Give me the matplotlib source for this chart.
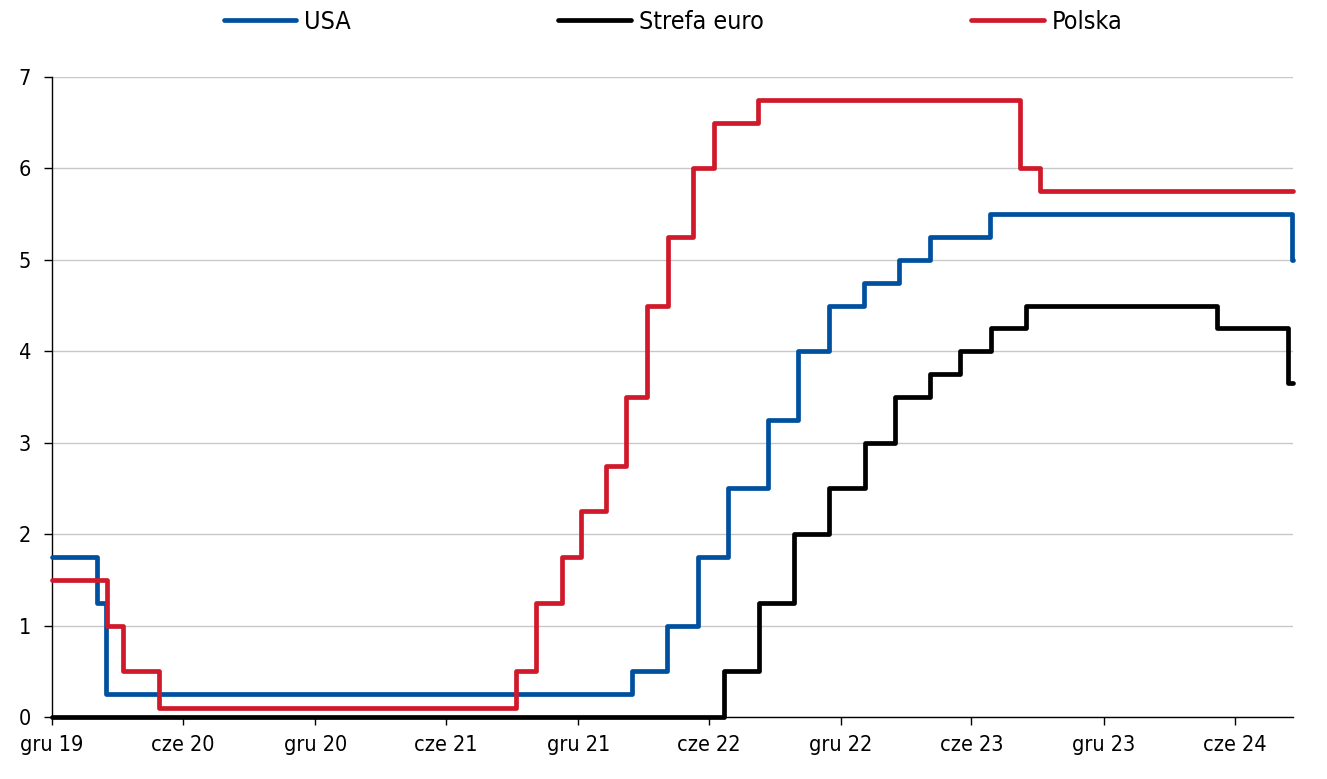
import numpy as np
import pandas as pd
import matplotlib.pyplot as plt

# stopy procentowe banków centralnych (daty zmian i poziomy)
usa_dates = ['2019-12-31', '2020-03-03', '2020-03-15', '2022-03-16', '2022-05-04',
             '2022-06-15', '2022-07-27', '2022-09-21', '2022-11-02', '2022-12-14',
             '2023-02-01', '2023-03-22', '2023-05-03', '2023-07-26', '2024-09-18']
usa_vals = [1.75, 1.25, 0.25, 0.5, 1.0, 1.75, 2.5, 3.25, 4.0, 4.5, 4.75, 5.0, 5.25, 5.5, 5.0]

ez_dates = ['2019-12-31', '2022-07-21', '2022-09-08', '2022-10-27', '2022-12-15',
            '2023-02-02', '2023-03-16', '2023-05-04', '2023-06-15', '2023-07-27',
            '2023-09-14', '2024-06-06', '2024-09-12']
ez_vals = [0.0, 0.5, 1.25, 2.0, 2.5, 3.0, 3.5, 3.75, 4.0, 4.25, 4.5, 4.25, 3.65]

pl_dates = ['2019-12-31', '2020-03-17', '2020-04-08', '2020-05-28', '2021-10-06',
            '2021-11-03', '2021-12-08', '2022-01-04', '2022-02-08', '2022-03-08',
            '2022-04-06', '2022-05-05', '2022-06-08', '2022-07-07', '2022-09-07',
            '2023-09-06', '2023-10-04']
pl_vals = [1.5, 1.0, 0.5, 0.1, 0.5, 1.25, 1.75, 2.25, 2.75, 3.5, 4.5, 5.25, 6.0,
           6.5, 6.75, 6.0, 5.75]

end_date = '2024-09-19'

tick_dates = ['2019-12-31', '2020-06-30', '2020-12-31', '2021-06-30', '2021-12-31',
              '2022-06-30', '2022-12-31', '2023-06-30', '2023-12-31', '2024-06-30']
tick_labels = ['gru 19', 'cze 20', 'gru 20', 'cze 21', 'gru 21',
               'cze 22', 'gru 22', 'cze 23', 'gru 23', 'cze 24']


def series(dates, vals):
    d = pd.to_datetime(dates + [end_date])
    v = vals + [vals[-1]]
    return d, v


plt.rcParams['font.family'] = ['DejaVu Sans']
plt.rcParams['font.stretch'] = 'condensed'

fig = plt.figure(figsize=(13.27, 7.79), dpi=100)
ax = fig.add_axes([0.0392, 0.0796, 0.9352, 0.8216])

for dates, vals, col, name in [(usa_dates, usa_vals, '#0050a0', 'USA'),
                               (ez_dates, ez_vals, '#000000', 'Strefa euro'),
                               (pl_dates, pl_vals, '#d0192a', 'Polska')]:
    d, v = series(dates, vals)
    ax.step(d, v, where='post', color=col, lw=3.4, label=name, clip_on=False,
            solid_capstyle='round', zorder=3)

ax.set_ylim(0, 7)
ax.set_yticks(range(0, 8))
ax.set_xlim(pd.Timestamp('2019-12-31'), pd.Timestamp(end_date))
ax.set_xticks(pd.to_datetime(tick_dates))
ax.set_xticklabels(tick_labels)

ax.grid(axis='y', color='#c8c8c8', lw=1)
ax.set_axisbelow(True)
for s in ['top', 'right']:
    ax.spines[s].set_visible(False)
ax.spines['left'].set_linewidth(1)
ax.spines['bottom'].set_linewidth(1)
ax.tick_params(axis='both', direction='out', length=6, width=1, labelsize=15.5)
ax.tick_params(axis='y', pad=9)
ax.tick_params(axis='x', pad=7)

fig.legend(loc='center', bbox_to_anchor=(673 / 1327, 1 - 22 / 779), ncol=3,
           frameon=False, fontsize=18, handlelength=2.9, handletextpad=0.32,
           columnspacing=8.3)

fig.savefig('out.png', dpi=100)
